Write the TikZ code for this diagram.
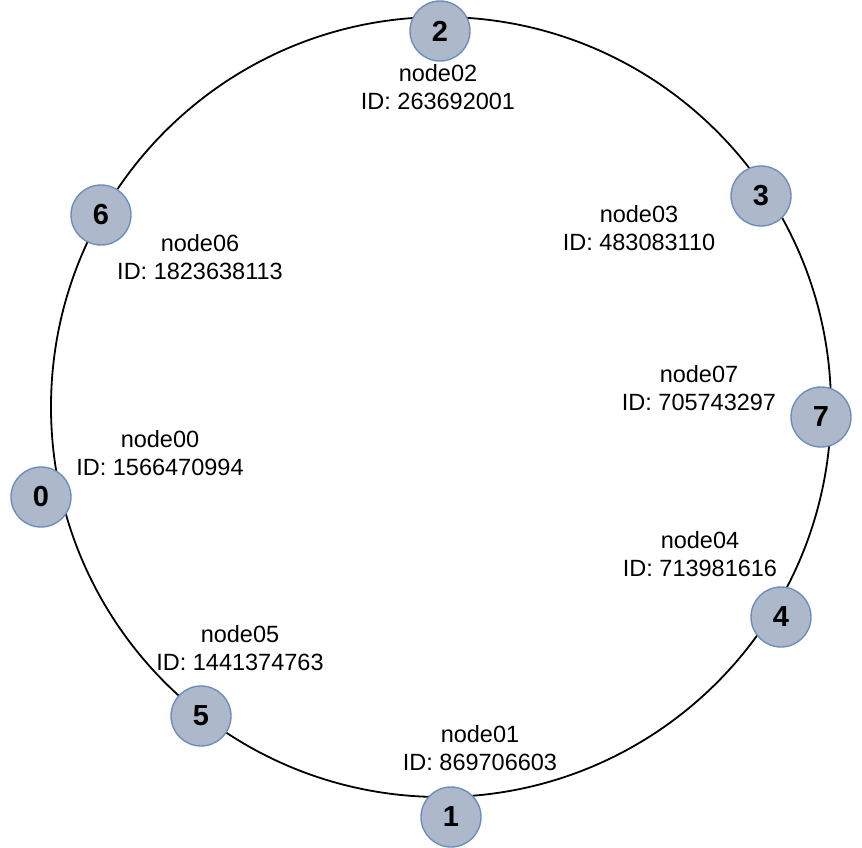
\documentclass[tikz,border=0pt]{standalone}
\usepackage{fontspec}
\setmainfont{Liberation Sans}
\definecolor{nodefill}{HTML}{ADB9CA}
\definecolor{nodeline}{HTML}{6C8EBF}
\begin{document}
\begin{tikzpicture}[x=1pt,y=-1pt,
  ring/.style={draw=black,line width=1.8pt,circle,minimum size=780pt,inner sep=0pt},
  peer/.style={circle,draw=nodeline,fill=nodefill,line width=1.4pt,minimum size=60pt,inner sep=0pt,font=\fontsize{29}{32}\selectfont\bfseries},
  info/.style={align=center,inner sep=0pt,font=\fontsize{23.5}{28}\selectfont}]
\useasboundingbox (0,0) rectangle (862,848);
\node[ring] (ring) at (441,407) {};
\node[peer] (n2) at (440,31) {2};
\node[peer] (n3) at (761,196) {3};
\node[peer] (n7) at (821,417) {7};
\node[peer] (n4) at (781,617) {4};
\node[peer] (n1) at (451,817) {1};
\node[peer] (n5) at (201,716) {5};
\node[peer] (n0) at (41,497) {0};
\node[peer] (n6) at (101,215) {6};
\node[info] (l2) at (438,87) {node02\\ID: 263692001};
\node[info] (l3) at (639,228) {node03\\ID: 483083110};
\node[info] (l7) at (699,388) {node07\\ID: 705743297};
\node[info] (l4) at (700,554) {node04\\ID: 713981616};
\node[info] (l1) at (480,748) {node01\\ID: 869706603};
\node[info] (l5) at (240,648) {node05\\ID: 1441374763};
\node[info] (l0) at (160,453) {node00\\ID: 1566470994};
\node[info] (l6) at (200,257) {node06\\ID: 1823638113};
\end{tikzpicture}
\end{document}
